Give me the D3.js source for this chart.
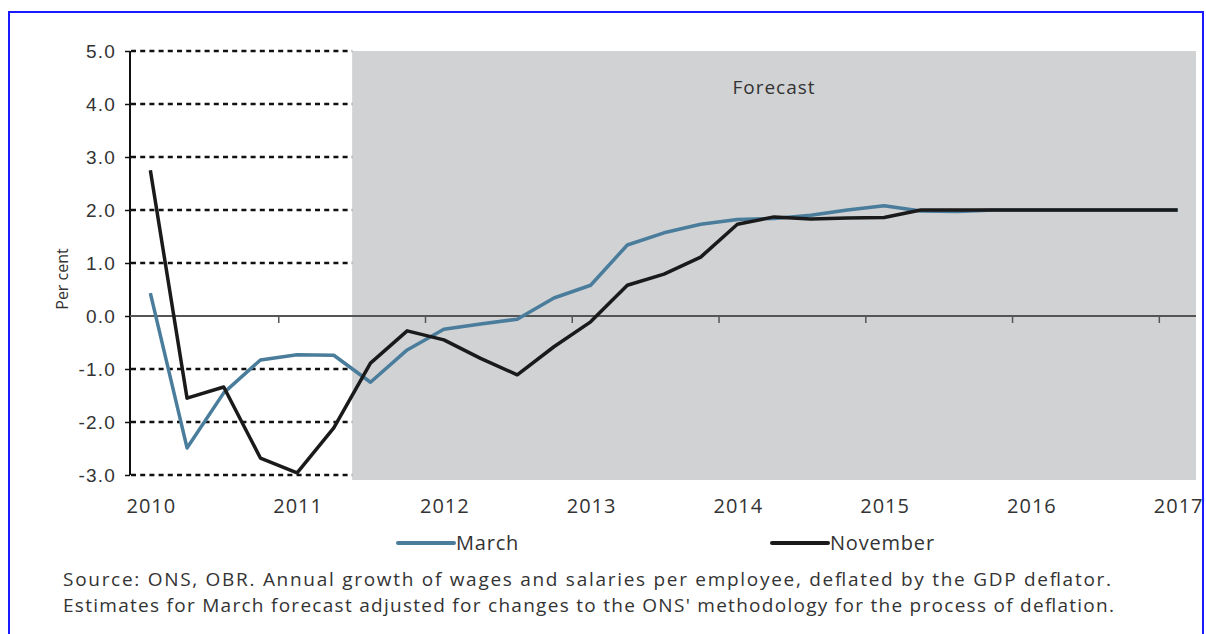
<!DOCTYPE html>
<html lang="en">
<head>
<meta charset="utf-8">
<style>
  body { margin: 0; background: white; }
  svg { display: block; font-family: "Open Sans", Lato, sans-serif; }
  .tick text { fill: #333; font-size: 19px; letter-spacing: 1.2px; }
  .grid { stroke: #111; stroke-width: 2.4px; stroke-dasharray: 5 4.2; }
  .series { fill: none; stroke-width: 3.5px; stroke-linejoin: round; }
  .note { fill: #333; font-size: 19px; }
</style>
<script src="https://d3js.org/d3.v7.min.js"></script>
</head>
<body>
<script>
// quarterly categories, 2010 Q1 .. 2017 Q1
var quarters = ["2010Q1","2010Q2","2010Q3","2010Q4","2011Q1","2011Q2","2011Q3","2011Q4",
  "2012Q1","2012Q2","2012Q3","2012Q4","2013Q1","2013Q2","2013Q3","2013Q4",
  "2014Q1","2014Q2","2014Q3","2014Q4","2015Q1","2015Q2","2015Q3","2015Q4",
  "2016Q1","2016Q2","2016Q3","2016Q4","2017Q1"];
var march = [0.43,-2.49,-1.45,-0.83,-0.73,-0.74,-1.25,-0.64,-0.25,-0.15,-0.06,0.34,0.58,
  1.34,1.57,1.73,1.82,1.84,1.9,2.0,2.08,1.98,1.97,2.0,2.0,2.0,2.0,2.0,2.0];
var november = [2.75,-1.55,-1.34,-2.68,-2.96,-2.11,-0.89,-0.28,-0.45,-0.8,-1.11,-0.58,-0.11,
  0.58,0.79,1.11,1.73,1.87,1.83,1.85,1.86,2.0,2.0,2.0,2.0,2.0,2.0,2.0,2.0];
var yearLabels = ["2010","2011","2012","2013","2014","2015","2016","2017"];
var yTicks = [-3,-2,-1,0,1,2,3,4,5];
var forecastStart = "2011Q3";

var width = 1206, height = 634;
var svg = d3.select("body").append("svg").attr("width", width).attr("height", height);

// outer blue frame
svg.append("rect").attr("x", 9).attr("y", 12).attr("width", 1194).attr("height", 640)
  .attr("fill", "none").attr("stroke", "#1a1aff").attr("stroke-width", 2);

var x = d3.scaleBand().domain(quarters).range([132, 1196]).padding(0);
var y = d3.scaleLinear().domain([-3, 5]).range([475, 51]);
var bw = x.bandwidth();
var cx = function(q) { return x(q) + bw / 2; };

// forecast shading
svg.append("rect")
  .attr("x", x(forecastStart)).attr("y", y(5))
  .attr("width", 1196 - x(forecastStart)).attr("height", y(-3) - y(5) + 5)
  .attr("fill", "#d1d2d4");
svg.append("text").attr("x", 774).attr("y", 94).attr("text-anchor", "middle")
  .attr("class", "note").style("letter-spacing", "1px").text("Forecast");

// dashed gridlines, outturn area only
svg.selectAll(".grid").data(yTicks.filter(function(d) { return d !== 0; }))
  .enter().append("line").attr("class", "grid")
  .attr("x1", 131).attr("x2", x(forecastStart))
  .attr("y1", function(d) { return y(d); }).attr("y2", function(d) { return y(d); });

// y axis
var yAxis = svg.append("g").attr("transform", "translate(130,0)")
  .call(d3.axisLeft(y).tickValues(yTicks).tickSize(5).tickPadding(9)
    .tickFormat(function(d) { return d.toFixed(1); }));
yAxis.select(".domain").attr("stroke", "#111").attr("stroke-width", 2)
  .attr("d", "M0," + y(5) + "V" + y(-3));
yAxis.selectAll(".tick line").attr("stroke", "#111").attr("stroke-width", 1.5);

svg.append("text").attr("transform", "translate(68,279) rotate(-90)")
  .attr("text-anchor", "middle").attr("class", "note").style("font-size", "16px")
  .text("Per cent");

// zero line with year ticks between categories
svg.append("line").attr("x1", 130).attr("x2", 1196).attr("y1", y(0)).attr("y2", y(0))
  .attr("stroke", "#555").attr("stroke-width", 2);
var yearTicks = yearLabels.slice(1).map(function(yr) { return yr + "Q1"; });
svg.selectAll(".xtick").data(yearTicks).enter().append("line")
  .attr("x1", function(q) { return x(q); }).attr("x2", function(q) { return x(q); })
  .attr("y1", y(0)).attr("y2", y(0) + 7).attr("stroke", "#555").attr("stroke-width", 1.5);
svg.selectAll(".xlab").data(yearLabels).enter().append("text")
  .attr("x", function(yr) { return cx(yr + "Q1") + 1; }).attr("y", 513)
  .attr("text-anchor", "middle").attr("class", "note").style("font-size", "20px")
  .style("letter-spacing", "1px")
  .text(function(yr) { return yr; });

// series
var line = d3.line().x(function(d, i) { return cx(quarters[i]); }).y(function(d) { return y(d); });
svg.append("path").datum(march).attr("class", "series").attr("stroke", "#4a7c9c").attr("d", line);
svg.append("path").datum(november).attr("class", "series").attr("stroke", "#1a1a1a").attr("d", line);

// legend
var legend = [{ name: "March", color: "#4a7c9c", x: 398 }, { name: "November", color: "#1a1a1a", x: 772 }];
var lg = svg.selectAll(".lg").data(legend).enter().append("g")
  .attr("transform", function(d) { return "translate(" + d.x + ",543)"; });
lg.append("line").attr("x1", 0).attr("x2", 56).attr("stroke", function(d) { return d.color; })
  .attr("stroke-width", 4).attr("stroke-linecap", "round");
lg.append("text").attr("x", 58).attr("y", 7).attr("class", "note").style("font-size", "20px")
  .style("letter-spacing", "0.8px")
  .text(function(d) { return d.name; });

// footnote
svg.append("text").attr("x", 63).attr("y", 586).attr("class", "note")
  .attr("textLength", 1048).attr("lengthAdjust", "spacing")
  .text("Source: ONS, OBR. Annual growth of wages and salaries per employee, deflated by the GDP deflator.");
svg.append("text").attr("x", 63).attr("y", 612).attr("class", "note")
  .attr("textLength", 1051).attr("lengthAdjust", "spacing")
  .text("Estimates for March forecast adjusted for changes to the ONS' methodology for the process of deflation.");
</script>
</body>
</html>
